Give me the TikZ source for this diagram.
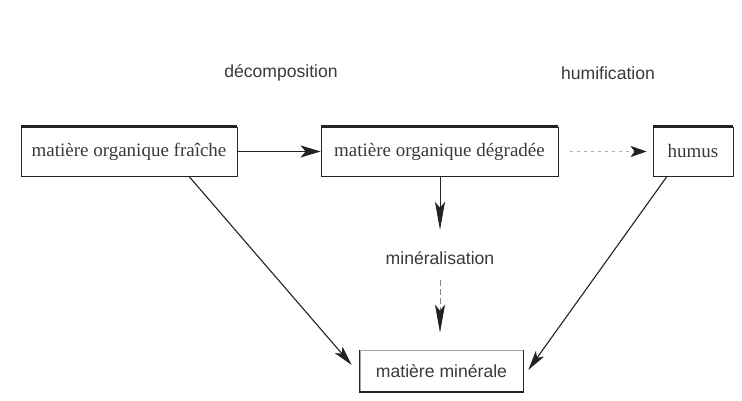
\documentclass[tikz,border=0pt]{standalone}
\usepackage{fontspec}
\setmainfont{Liberation Serif}
\newfontfamily\labfont{Liberation Sans}
\usetikzlibrary{arrows.meta}
\definecolor{ink}{HTML}{222222}
\definecolor{txt}{HTML}{3A3A3A}
\begin{document}
\begin{tikzpicture}[x=1pt,y=1pt,
  boxtop/.style={draw=ink, line width=0.8pt, inner sep=0pt, font=\fontsize{19}{22}\selectfont, text=txt, minimum height=49pt},
  lab/.style={font=\labfont\fontsize{17.6}{20}\selectfont, text=txt, inner sep=0pt},
  arr/.style={draw=ink, line width=1.1pt, -{Stealth[length=20pt,width=10pt,inset=5pt]}},
  varr/.style={draw=ink, line width=0.8pt, -{Stealth[length=28pt,width=10pt,inset=6pt,color=ink]}}
]
\useasboundingbox (0,0) rectangle (742,401);
\fill[white] (0,0) rectangle (742,401);

\node[boxtop, minimum width=216pt] (f) at (129,249.5) {matière organique fraîche};
\node[boxtop, minimum width=237pt] (d) at (439.5,249.5) {matière organique dégradée};
\node[boxtop, minimum width=80pt] (h) at (693,249.5) {humus};
\node[draw=ink!40, line width=0.6pt, inner sep=0pt, minimum width=163pt, minimum height=42pt, font=\labfont\fontsize{17.6}{20}\selectfont, text=txt] (m) at (441.5,30) {matière minérale};

\draw[ink, line width=2.2pt] (f.north west) -- (f.north east);
\draw[ink, line width=2.2pt] (d.north west) -- (d.north east);
\draw[ink, line width=2.2pt] (h.north west) -- (h.north east);
\draw[ink, line width=0.8pt] (m.north west) -- (m.south west) -- (m.south east) -- (m.north east);
\draw[ink, line width=2pt] (m.south west) -- (m.south east);

\node[lab] (dec) at (281,328) {décomposition};
\node[lab] (hum) at (608,328) {humification};
\node[lab, minimum height=44pt] (min) at (440,143) {minéralisation};

\draw[arr, line width=1.4pt, -{Stealth[length=20pt,width=12pt,inset=5pt]}] (f.east) -- (d.west);
\draw[draw=ink!35, line width=0.8pt, dash pattern=on 3pt off 4pt, shorten <=12pt, shorten >=6pt, -{Stealth[length=16pt,width=11pt,inset=4pt,color=ink]}] (d.east) -- (h.west);
\draw[varr, shorten >=6pt] (d.south -| min.north) -- (min.north);
\draw[varr, draw=ink!55, dash pattern=on 6pt off 3pt, shorten >=17pt] (min.south) -- (min.south |- m.north);
\draw[arr] ([xshift=60pt]f.south) -- ([xshift=-8pt,yshift=6pt]m.west);
\draw[arr] ([xshift=-26pt]h.south) -- ([xshift=5pt,yshift=1pt]m.east);
\end{tikzpicture}
\end{document}
